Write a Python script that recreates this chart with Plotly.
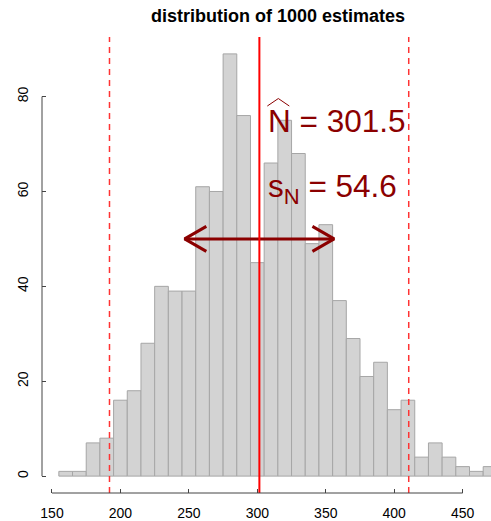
import plotly.graph_objects as go

# ---- data ----
bin_centers = [160, 170, 180, 190, 200, 210, 220, 230, 240, 250,
               260, 270, 280, 290, 300, 310, 320, 330, 340, 350,
               360, 370, 380, 390, 400, 410, 420, 430, 440, 450,
               460, 470]
counts = [1, 1, 7, 8, 16, 18, 28, 40, 39, 39,
          61, 60, 89, 76, 45, 66, 75, 68, 49, 53,
          37, 29, 21, 24, 14, 16, 4, 7, 4, 2,
          1, 2]
bin_width = 10
N_hat = 301.5
s_N = 54.6
q_lo = 192.0
q_hi = 410.6
x_ticks = [150, 200, 250, 300, 350, 400, 450]
y_ticks = [0, 20, 40, 60, 80]
title = "distribution of 1000 estimates"

# ---- layout geometry ----
W, H = 491, 521
ML, MR, MT, MB = 42, 0, 37, 28
px_per_x = 1.3689
x_range = [142.7, 142.7 + (W - ML - MR) / px_per_x]
y_range = [-3.56, 92.56]
px_per_y = (H - MT - MB) / (y_range[1] - y_range[0])

DARKRED = "#8B0000"
FONT = "Liberation Sans, Arial, Helvetica, sans-serif"
AXCOL = "#444444"

fig = go.Figure()
fig.add_trace(go.Bar(
    x=bin_centers, y=counts, width=bin_width,
    marker=dict(color="#D3D3D3", line=dict(color="#A6A6A6", width=1)),
    hoverinfo="skip", showlegend=False,
))

# double-headed arrow N_hat +/- s_N with open chevron heads
arrow_y = 50
head_dx = 21.7 / px_per_x
head_dy = 12.5 / px_per_y
lo, hi = N_hat - s_N, N_hat + s_N
ax = [lo, hi, None, lo + head_dx, lo, lo + head_dx, None, hi - head_dx, hi, hi - head_dx]
ay = [arrow_y, arrow_y, None, arrow_y + head_dy, arrow_y, arrow_y - head_dy, None,
      arrow_y + head_dy, arrow_y, arrow_y - head_dy]
fig.add_trace(go.Scatter(x=ax, y=ay, mode="lines",
                         line=dict(color=DARKRED, width=3),
                         hoverinfo="skip", showlegend=False))

shapes = [
    dict(type="line", xref="x", yref="paper", x0=N_hat, x1=N_hat, y0=0, y1=1,
         line=dict(color="#FF0000", width=2)),
    dict(type="line", xref="x", yref="paper", x0=q_lo, x1=q_lo, y0=0, y1=1,
         line=dict(color="#FF3333", width=1.5, dash="6px,5px")),
    dict(type="line", xref="x", yref="paper", x0=q_hi, x1=q_hi, y0=0, y1=1,
         line=dict(color="#FF3333", width=1.5, dash="6px,5px")),
    # R-style axis lines spanning only the tick range
    dict(type="line", xref="x", yref="paper", x0=x_ticks[0], x1=x_ticks[-1], y0=0, y1=0,
         line=dict(color=AXCOL, width=1)),
    dict(type="line", xref="paper", yref="y", x0=0, x1=0, y0=y_ticks[0], y1=y_ticks[-1],
         line=dict(color=AXCOL, width=1)),
]

text_x = 306.2
n_text_y = 74.85
s_text_y = 60.6
# hat over N
shapes.append(dict(type="path", xref="x", yref="y", xsizemode="pixel", ysizemode="pixel",
                   xanchor=text_x, yanchor=n_text_y,
                   path="M 1.5,15 L 12.5,22.5 L 23.5,15",
                   line=dict(color=DARKRED, width=1)))

title_x = (278.4 - ML) / (W - ML - MR)
title_y = (H - MB - 16) / (H - MT - MB)

annotations = [
    dict(text="<b>%s</b>" % title, xref="paper", yref="paper", x=title_x, y=title_y,
         xanchor="center", yanchor="middle", showarrow=False,
         font=dict(family=FONT, size=18, color="black")),
    dict(text="N = %s" % N_hat, xref="x", yref="y", x=text_x, y=n_text_y,
         xanchor="left", yanchor="middle", showarrow=False,
         font=dict(family=FONT, size=31.5, color=DARKRED)),
    dict(text="s<sub>N</sub> = %s" % s_N, xref="x", yref="y", x=text_x, y=s_text_y,
         xanchor="left", yanchor="middle", showarrow=False,
         font=dict(family=FONT, size=31.5, color=DARKRED)),
]

fig.update_layout(
    width=W, height=H,
    margin=dict(l=ML, r=MR, t=MT, b=MB, pad=0, autoexpand=False),
    paper_bgcolor="white", plot_bgcolor="white",
    bargap=0, showlegend=False,
    shapes=shapes, annotations=annotations,
    font=dict(family=FONT, size=14, color="black"),
    xaxis=dict(range=x_range, tickvals=x_ticks, ticktext=[str(v) for v in x_ticks],
               ticks="inside", ticklen=4, tickcolor=AXCOL, showline=False,
               showgrid=False, zeroline=False, ticklabelstandoff=10, automargin=False,
               tickfont=dict(family=FONT, size=14, color="black")),
    yaxis=dict(range=y_range, tickvals=y_ticks, ticktext=[str(v) for v in y_ticks],
               ticks="inside", ticklen=4, tickcolor=AXCOL, showline=False,
               showgrid=False, zeroline=False, tickangle=-90, ticklabelstandoff=10,
               automargin=False,
               tickfont=dict(family=FONT, size=14, color="black")),
)

fig.write_html(
    "out.html",
    config={"displayModeBar": False, "staticPlot": True},
    post_script="document.body.style.margin='0';document.body.style.overflow='hidden';",
)
